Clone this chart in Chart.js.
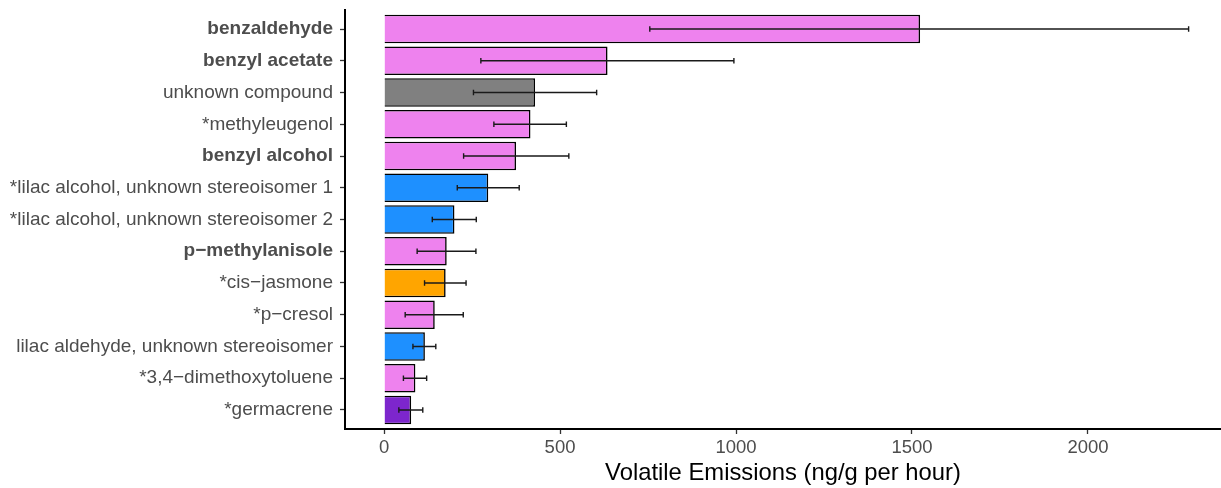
<!DOCTYPE html>
<html>
<head>
<meta charset="utf-8">
<script src="https://cdn.jsdelivr.net/npm/chart.js@4"></script>
<style>
  html, body { margin: 0; padding: 0; background: #ffffff; }
  #c { display: block; }
</style>
</head>
<body>
<canvas id="c" width="1221" height="488"></canvas>
<script>
const categories = [
  "benzaldehyde",
  "benzyl acetate",
  "unknown compound",
  "*methyleugenol",
  "benzyl alcohol",
  "*lilac alcohol, unknown stereoisomer 1",
  "*lilac alcohol, unknown stereoisomer 2",
  "p\u2212methylanisole",
  "*cis\u2212jasmone",
  "*p\u2212cresol",
  "lilac aldehyde, unknown stereoisomer",
  "*3,4\u2212dimethoxytoluene",
  "*germacrene"
];
const boldCategories = ["benzaldehyde", "benzyl acetate", "benzyl alcohol", "p\u2212methylanisole"];
const means    = [1523, 635, 429, 416, 375, 296, 200, 178, 175, 144, 116, 89, 77];
const errLow   = [755, 275, 254, 312, 226, 208, 137, 94, 115, 60, 82, 55, 42];
const errHigh  = [2286, 994, 604, 518, 525, 384, 262, 261, 233, 225, 147, 121, 110];
const barColors = ["#EE82EE", "#EE82EE", "#808080", "#EE82EE", "#EE82EE", "#1E90FF", "#1E90FF",
                   "#EE82EE", "#FFA500", "#EE82EE", "#1E90FF", "#EE82EE", "#7D26CD"];
const xTickValues = [0, 500, 1000, 1500, 2000];
const xAxisTitle = "Volatile Emissions (ng/g per hour)";

const FONT = "'Liberation Sans', Arial, Helvetica, sans-serif";

const errorBarPlugin = {
  id: 'errorBars',
  afterDatasetsDraw(chart) {
    const ctx = chart.ctx;
    const xs = chart.scales.x, ys = chart.scales.y;
    ctx.save();
    ctx.strokeStyle = '#1a1a1a';
    ctx.lineWidth = 1.4;
    for (let i = 0; i < means.length; i++) {
      const y = ys.getPixelForValue(i);
      const x1 = xs.getPixelForValue(errLow[i]);
      const x2 = xs.getPixelForValue(errHigh[i]);
      const cap = 2.8;
      ctx.beginPath();
      ctx.moveTo(x1, y); ctx.lineTo(x2, y);
      ctx.moveTo(x1, y - cap); ctx.lineTo(x1, y + cap);
      ctx.moveTo(x2, y - cap); ctx.lineTo(x2, y + cap);
      ctx.stroke();
    }
    ctx.restore();
  }
};

new Chart(document.getElementById('c'), {
  type: 'bar',
  data: {
    datasets: [{
      data: means.map((v, i) => ({ x: v, y: i })),
      backgroundColor: barColors,
      borderColor: '#000000',
      borderWidth: 1.6,
      barPercentage: 0.9,
      categoryPercentage: 1.0
    }]
  },
  options: {
    indexAxis: 'y',
    responsive: false,
    animation: false,
    devicePixelRatio: 1,
    layout: { padding: { top: 10, right: 0, bottom: 0, left: 0 } },
    plugins: { legend: { display: false }, tooltip: { enabled: false }, title: { display: false } },
    scales: {
      x: {
        type: 'linear',
        position: 'bottom',
        min: -111,
        max: 2378,
        offset: false,
        afterBuildTicks: (scale) => { scale.ticks = xTickValues.map(v => ({ value: v })); },
        afterFit: (scale) => { scale.height = 59; scale.paddingLeft = 0; scale.paddingRight = 0; },
        ticks: {
          color: '#4D4D4D',
          font: { family: FONT, size: 18.5 },
          padding: 3,
          maxRotation: 0,
          callback: (v) => String(v)
        },
        grid: { display: true, offset: false, drawOnChartArea: false, drawTicks: true, tickLength: 5, color: '#333333', tickWidth: 1.3 },
        border: { display: true, color: '#000000', width: 2 },
        title: {
          display: true,
          text: xAxisTitle,
          color: '#000000',
          font: { family: FONT, size: 23.8 },
          padding: { top: 0, bottom: 0 }
        }
      },
      y: {
        type: 'linear',
        reverse: true,
        offset: false,
        min: -0.6,
        max: categories.length - 1 + 0.6,
        afterBuildTicks: (scale) => { scale.ticks = categories.map((_, i) => ({ value: i })); },
        afterFit: (scale) => { scale.width = 345; scale.paddingTop = 0; scale.paddingBottom = 0; },
        ticks: {
          color: '#4D4D4D',
          padding: 7,
          font: (ctx) => ({
            family: FONT,
            size: 19,
            weight: (ctx.tick && boldCategories.includes(categories[ctx.tick.value])) ? 'bold' : 'normal'
          }),
          callback: (v) => categories[v]
        },
        grid: { display: true, offset: false, drawOnChartArea: false, drawTicks: true, tickLength: 5, color: '#333333', tickWidth: 1.3 },
        border: { display: true, color: '#000000', width: 2 }
      }
    }
  },
  plugins: [errorBarPlugin]
});
</script>
</body>
</html>
